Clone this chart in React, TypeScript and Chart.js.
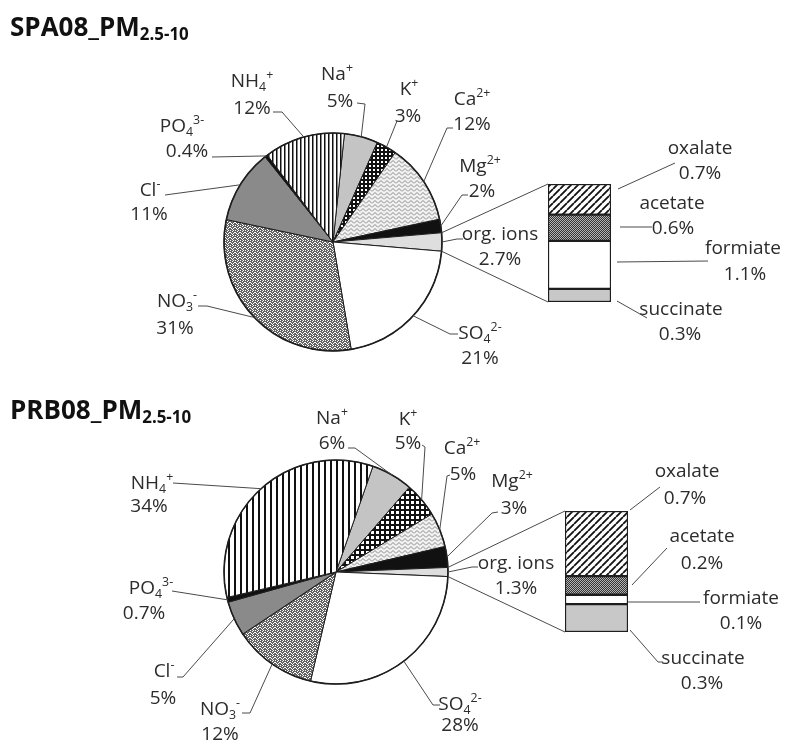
import { useEffect, useRef } from 'react';
import { Chart, registerables } from 'chart.js';
Chart.register(...registerables);

// ---------------- data ----------------
const ionNames = ['Na^{+}', 'K^{+}', 'Ca^{2+}', 'Mg^{2+}', 'org. ions', 'SO_{4}^{2-}', 'NO_{3}^{-}', 'Cl^{-}', 'PO_{4}^{3-}', 'NH_{4}^{+}'];
const spaIonValues = [5, 3, 12, 2, 2.7, 21, 31, 11, 0.4, 12];
const prbIonValues = [6, 5, 5, 3, 1.3, 28, 12, 5, 0.7, 34];
const orgNames = ['oxalate', 'acetate', 'formiate', 'succinate'];
const spaOrgValues = [0.7, 0.6, 1.1, 0.3];
const prbOrgValues = [0.7, 0.2, 0.1, 0.3];
const spaTitle = 'SPA08_PM_{2.5-10}';
const prbTitle = 'PRB08_PM_{2.5-10}';
const ORG_INDEX = 4;

// ---------------- layout ----------------
const W = 785;
const H = 370;
type Pt = [number, number];
type Layout = {
  cx: number; cy: number; r: number; titleY: number;
  bar: { left: number; right: number; top: number; bottom: number };
  stripe: number; check: number;
  ionText: number[][]; ionLead: Pt[][];
  orgText: number[][]; orgLead: Pt[][];
};
const spaLayout: Layout = {
  cx: 333, cy: 242, r: 109, titleY: 26.5,
  bar: { left: 548, right: 611, top: 184, bottom: 302 },
  stripe: 4, check: 4,
  ionText: [[337, 73, 340, 100], [409, 88, 408, 115], [472, 98, 472, 123], [480, 165, 482, 190], [500, 233, 500, 258],
    [480, 332, 480, 357], [177, 300, 175, 327], [150, 189, 149, 213], [182, 125, 187, 150], [252, 80, 252, 107]],
  ionLead: [[[357, 103], [365, 104]], [[397, 121]], [[453, 128], [447, 128]], [[468, 195], [462, 195]], [[463, 239], [457, 239]],
    [[458, 334], [450, 334]], [[198, 306], [207, 306]], [[165, 195]], [[212, 157]], [[273, 112], [282, 112]]],
  orgText: [[700, 147, 700, 172], [672, 202, 673, 227], [743, 247, 745, 273], [681, 308, 680, 333]],
  orgLead: [[[618, 189], [675, 163]], [[620, 227], [652, 227]], [[617, 262], [708, 261]], [[617, 301], [647, 318]]],
};
const prbLayout: Layout = {
  cx: 336, cy: 202, r: 112, titleY: 40,
  bar: { left: 565, right: 628, top: 141, bottom: 262 },
  stripe: 6, check: 5,
  ionText: [[332, 47, 332, 72], [408, 48, 408, 72], [462, 77, 463, 103], [512, 110, 514, 137], [516, 192, 516, 217],
    [460, 333, 460, 354], [220, 338, 220, 363], [164, 300, 163, 327], [151, 217, 144, 242], [152, 112, 149, 135]],
  ionLead: [[[348, 78], [355, 78]], [[422, 75], [425, 77]], [[450, 105], [447, 106]], [[498, 142], [492, 143]], [[478, 197], [472, 197]],
    [[440, 335], [433, 335]], [[242, 343], [250, 343]], [[177, 307], [183, 307]], [[172, 221]], [[173, 113]]],
  orgText: [[687, 100, 685, 127], [702, 165, 702, 192], [741, 227, 741, 252], [703, 287, 702, 312]],
  orgLead: [[[630, 140], [660, 117]], [[632, 215], [667, 178]], [[628, 232], [700, 232]], [[630, 260], [658, 292], [663, 292]]],
};

const FONT = "'Open Sans', 'DejaVu Sans', sans-serif";
const TEXT = '#2c2c2c';
const LINE = '#4a4a4a';
const EDGE = '#1e1e1e';

// ---------------- helpers ----------------
function tile(ctx: CanvasRenderingContext2D, w: number, h: number, draw: (c: CanvasRenderingContext2D) => void) {
  const t = document.createElement('canvas');
  t.width = w; t.height = h;
  const c = t.getContext('2d')!;
  draw(c);
  return ctx.createPattern(t, 'repeat')!;
}

const CONFETTI = ['WDDWD', 'DDWDD', 'WDDDW', 'DWDWD', 'DDWDD'];

function ionFills(ctx: CanvasRenderingContext2D, L: Layout) {
  const stripes = tile(ctx, L.stripe, 4, (c) => {
    c.fillStyle = '#fff'; c.fillRect(0, 0, L.stripe, 4);
    c.fillStyle = '#111'; c.fillRect(0, 0, L.stripe <= 4 ? 1.5 : 2, 4);
  });
  const s = L.check;
  const checker = tile(ctx, s, s, (c) => {
    c.fillStyle = '#111'; c.fillRect(0, 0, s, s);
    c.fillStyle = '#fff'; c.fillRect(1, 1, s - 2, s - 2);
  });
  const wave = tile(ctx, 6, 4, (c) => {
    c.fillStyle = '#f2f2f2'; c.fillRect(0, 0, 6, 4);
    c.strokeStyle = '#8a8a8a'; c.lineWidth = 1;
    c.beginPath(); c.moveTo(0, 3.5); c.lineTo(3, 0.5); c.lineTo(6, 3.5); c.stroke();
  });
  const confetti = tile(ctx, 5, 5, (c) => {
    c.fillStyle = '#636363'; c.fillRect(0, 0, 5, 5);
    c.fillStyle = '#ffffff';
    CONFETTI.forEach((row, y) => row.split('').forEach((ch, x) => { if (ch === 'W') c.fillRect(x, y, 1, 1); }));
  });
  return ['#c4c4c4', checker, wave, '#111111', '#dedede', '#ffffff', confetti, '#8a8a8a', '#111111', stripes];
}

function orgFills(ctx: CanvasRenderingContext2D) {
  const p = 7;
  const diag = tile(ctx, p, p, (c) => {
    c.fillStyle = '#fff'; c.fillRect(0, 0, p, p);
    c.strokeStyle = '#111'; c.lineWidth = 1.8;
    c.beginPath();
    for (const k of [-1, 0, 1]) { c.moveTo(k * p, p); c.lineTo(k * p + p, 0); }
    c.stroke();
  });
  const dense = tile(ctx, 2, 2, (c) => {
    c.fillStyle = '#333'; c.fillRect(0, 0, 2, 2);
    c.fillStyle = '#b4b4b4'; c.fillRect(0, 0, 1, 1); c.fillRect(1, 1, 1, 1);
  });
  return [diag, dense, '#ffffff', '#c8c8c8'];
}

type Seg = { t: string; k: 0 | 1 | 2 };
function parse(s: string): Seg[] {
  const out: Seg[] = [];
  const re = /([_^])\{([^}]*)\}/g;
  let last = 0;
  let m: RegExpExecArray | null;
  while ((m = re.exec(s))) {
    if (m.index > last) out.push({ t: s.slice(last, m.index), k: 0 });
    out.push({ t: m[2], k: m[1] === '_' ? 1 : 2 });
    last = re.lastIndex;
  }
  if (last < s.length) out.push({ t: s.slice(last), k: 0 });
  return out;
}

function drawRich(ctx: CanvasRenderingContext2D, s: string, x: number, yc: number, fs: number,
  opts: { weight?: string; align?: 'center' | 'left'; color?: string; subDy?: number } = {}) {
  const weight = opts.weight || 'normal';
  const subDy = opts.subDy ?? 0.2;
  const segs = parse(s);
  const font = (k: number) => `${weight} ${k === 0 ? fs : fs * 0.65}px ${FONT}`;
  let w = 0;
  const ws = segs.map((g) => { ctx.font = font(g.k); const m = ctx.measureText(g.t).width; w += m; return m; });
  let cx = opts.align === 'left' ? x : x - w / 2;
  const base = yc + 0.357 * fs;
  ctx.textAlign = 'left';
  ctx.textBaseline = 'alphabetic';
  ctx.fillStyle = opts.color || TEXT;
  segs.forEach((g, i) => {
    ctx.font = font(g.k);
    const dy = g.k === 1 ? subDy * fs : g.k === 2 ? -0.4 * fs : 0;
    ctx.fillText(g.t, cx, base + dy);
    cx += ws[i];
  });
}

function polyline(ctx: CanvasRenderingContext2D, pts: Pt[]) {
  ctx.beginPath();
  pts.forEach((p, i) => (i ? ctx.lineTo(p[0], p[1]) : ctx.moveTo(p[0], p[1])));
  ctx.strokeStyle = LINE;
  ctx.lineWidth = 1;
  ctx.stroke();
}

const pct = (v: number) => `${v}%`;

// ---------------- panel ----------------
function Panel({ top, title, ionValues, orgValues, L }: { top: number; title: string; ionValues: number[]; orgValues: number[]; L: Layout }) {
  const pieRef = useRef<HTMLCanvasElement>(null);
  const barRef = useRef<HTMLCanvasElement>(null);

  useEffect(() => {
    const pc = pieRef.current!;
    const bc = barRef.current!;
    const pctx = pc.getContext('2d')!;
    const bctx = bc.getContext('2d')!;
    const total = ionValues.reduce((a, b) => a + b, 0);
    const before = ionValues.slice(0, ORG_INDEX).reduce((a, b) => a + b, 0);
    const rotation = 90 - (360 * (before + ionValues[ORG_INDEX] / 2)) / total;

    const pie = new Chart(pc, {
      type: 'pie',
      data: {
        labels: ionNames,
        datasets: [{
          data: ionValues,
          backgroundColor: ionFills(pctx, L) as any,
          borderColor: EDGE,
          borderWidth: 1,
        }],
      },
      options: {
        animation: false,
        responsive: false,
        events: [],
        rotation,
        radius: L.r,
        layout: { padding: { left: L.cx - L.r - 2, right: W - L.cx - L.r - 2, top: L.cy - L.r - 2, bottom: H - L.cy - L.r - 2 } },
        plugins: { legend: { display: false }, tooltip: { enabled: false } },
      } as any,
      plugins: [{
        id: 'pieAnnot',
        afterDraw(chart: any) {
          const ctx = chart.ctx as CanvasRenderingContext2D;
          const arcs = chart.getDatasetMeta(0).data as any[];
          ctx.save();
          const a0 = arcs[0];
          ctx.beginPath();
          ctx.arc(a0.x, a0.y, a0.outerRadius, 0, Math.PI * 2);
          ctx.strokeStyle = EDGE; ctx.lineWidth = 1.6; ctx.stroke();
          drawRich(ctx, title, 10, L.titleY, 26, { weight: 'bold', align: 'left', color: '#111', subDy: 0.16 });
          arcs.forEach((a, i) => {
            const mid = (a.startAngle + a.endAngle) / 2;
            const edge: Pt = [a.x + a.outerRadius * Math.cos(mid), a.y + a.outerRadius * Math.sin(mid)];
            polyline(ctx, [...L.ionLead[i], edge]);
            const t = L.ionText[i];
            drawRich(ctx, ionNames[i], t[0], t[1], 19);
            drawRich(ctx, pct(ionValues[i]), t[2], t[3], 19);
          });
          ctx.restore();
        },
      }],
    });

    const fills = orgFills(bctx);
    const order = [3, 2, 1, 0]; // bottom -> top: succinate, formiate, acetate, oxalate
    const orgTotal = orgValues.reduce((a, b) => a + b, 0);
    const bar = new Chart(bc, {
      type: 'bar',
      data: {
        labels: ['org. ions'],
        datasets: order.map((i) => ({
          label: orgNames[i],
          data: [orgValues[i]],
          backgroundColor: fills[i] as any,
          borderColor: EDGE,
          borderWidth: 1.5,
          borderSkipped: false,
          barPercentage: 1,
          categoryPercentage: 1,
        })),
      },
      options: {
        animation: false,
        responsive: false,
        events: [],
        layout: { padding: { left: L.bar.left, right: W - L.bar.right, top: L.bar.top, bottom: H - L.bar.bottom } },
        scales: {
          x: { display: false, stacked: true },
          y: { display: false, stacked: true, min: 0, max: orgTotal },
        },
        plugins: { legend: { display: false }, tooltip: { enabled: false } },
      } as any,
      plugins: [{
        id: 'barAnnot',
        afterDraw(chart: any) {
          const ctx = chart.ctx as CanvasRenderingContext2D;
          const topBar = chart.getDatasetMeta(order.length - 1).data[0] as any;
          const botBar = chart.getDatasetMeta(0).data[0] as any;
          const left = topBar.x - topBar.width / 2;
          const barTop = Math.min(topBar.y, topBar.base);
          const barBottom = Math.max(botBar.y, botBar.base);
          const org = pie.getDatasetMeta(0).data[ORG_INDEX] as any;
          ctx.save();
          polyline(ctx, [[org.x + org.outerRadius * Math.cos(org.startAngle), org.y + org.outerRadius * Math.sin(org.startAngle)], [left, barTop]]);
          polyline(ctx, [[org.x + org.outerRadius * Math.cos(org.endAngle), org.y + org.outerRadius * Math.sin(org.endAngle)], [left, barBottom]]);
          orgNames.forEach((n, i) => {
            polyline(ctx, L.orgLead[i]);
            const t = L.orgText[i];
            drawRich(ctx, n, t[0], t[1], 19);
            drawRich(ctx, pct(orgValues[i]), t[2], t[3], 19);
          });
          ctx.restore();
        },
      }],
    });

    return () => { bar.destroy(); pie.destroy(); };
  }, []);

  return (
    <div style={{ position: 'absolute', left: 0, top, width: W, height: H }}>
      <canvas ref={pieRef} width={W} height={H} style={{ position: 'absolute', left: 0, top: 0 }} />
      <canvas ref={barRef} width={W} height={H} style={{ position: 'absolute', left: 0, top: 0 }} />
    </div>
  );
}

export default function App() {
  return (
    <div style={{ position: 'absolute', left: 0, top: 0, width: W, height: 2 * H, background: '#fff', overflow: 'hidden' }}>
      <Panel top={0} title={spaTitle} ionValues={spaIonValues} orgValues={spaOrgValues} L={spaLayout} />
      <Panel top={H} title={prbTitle} ionValues={prbIonValues} orgValues={prbOrgValues} L={prbLayout} />
    </div>
  );
}
